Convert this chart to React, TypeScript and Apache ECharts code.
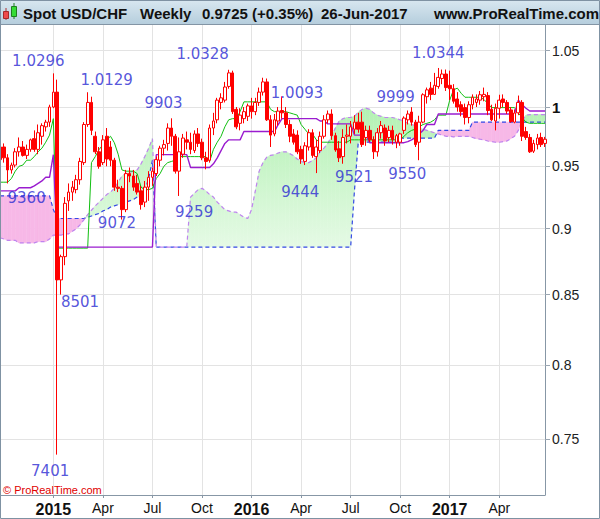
import React, { useEffect, useRef } from 'react';
import * as echarts from 'echarts';

// ---------- categories (weekly candles, Monday dates) ----------
const FIRST_WEEK = '2014-09-29';
const WEEK_COUNT = 144;
const categories: string[] = [];
{
  const t0 = Date.parse(FIRST_WEEK + 'T00:00:00Z');
  for (let i = 0; i < WEEK_COUNT; i++) categories.push(new Date(t0 + i * 604800000).toISOString().slice(0, 10));
}
const MONTHS = ['Jan', 'Feb', 'Mar', 'Apr', 'May', 'Jun', 'Jul', 'Aug', 'Sep', 'Oct', 'Nov', 'Dec'];

// ---------- price data ----------
const open = [
  0.9555, 0.966, 0.957, 0.947, 0.951, 0.962, 0.966, 0.959, 0.964, 0.973,
  0.964, 0.975, 0.983, 0.987, 1.000, 1.013, 0.861, 0.8785, 0.922, 0.929,
  0.931, 0.939, 0.953, 0.985, 1.004, 0.975, 0.962, 0.953, 0.975, 0.966,
  0.955, 0.933, 0.932, 0.915, 0.944, 0.942, 0.936, 0.930, 0.921, 0.933,
  0.941, 0.944, 0.955, 0.965, 0.969, 0.982, 0.975, 0.946, 0.960, 0.972,
  0.970, 0.963, 0.977, 0.970, 0.957, 0.955, 0.982, 0.989, 1.004, 1.006,
  1.018, 1.030, 0.998, 0.986, 0.990, 0.992, 1.001, 0.996, 1.004, 1.013,
  1.022, 0.989, 0.977, 0.988, 0.997, 0.995, 0.985, 0.977, 0.976, 0.964,
  0.954, 0.966, 0.978, 0.958, 0.963, 0.975, 0.989, 0.994, 0.9755, 0.9645,
  0.958, 0.975, 0.975, 0.981, 0.987, 0.987, 0.974, 0.980, 0.972, 0.962,
  0.978, 0.982, 0.974, 0.980, 0.970, 0.970, 0.980, 0.989, 0.9957, 0.987,
  0.970, 0.987, 1.009, 1.0165, 1.011, 1.018, 1.025, 1.029, 1.019, 1.016,
  1.007, 1.002, 0.9995, 0.991, 1.002, 1.004, 1.006, 1.009, 1.010, 0.998,
  0.988, 0.999, 1.007, 1.004, 0.9975, 0.987, 0.995, 1.004, 0.979, 0.974,
  0.9625, 0.968, 0.974, 0.969,
];
const high = [
  0.9675, 0.969, 0.960, 0.953, 0.965, 0.974, 0.971, 0.968, 0.973, 0.980,
  0.985, 0.986, 0.989, 1.002, 1.0296, 1.024, 0.880, 0.925, 0.936, 0.938,
  0.943, 0.957, 0.987, 1.0129, 1.009, 0.979, 0.966, 0.976, 0.982, 0.971,
  0.957, 0.939, 0.934, 0.947, 0.949, 0.947, 0.943, 0.934, 0.938, 0.946,
  0.949, 0.958, 0.967, 0.972, 0.986, 0.9903, 0.977, 0.974, 0.977, 0.979,
  0.978, 0.980, 0.982, 0.973, 0.962, 0.985, 0.995, 1.008, 1.012, 1.022,
  1.0328, 1.032, 1.000, 0.999, 1.000, 1.003, 1.008, 1.008, 1.017, 1.0257,
  1.025, 0.993, 0.994, 1.000, 1.0093, 1.000, 0.989, 0.981, 0.980, 0.967,
  0.970, 0.981, 0.981, 0.972, 0.979, 0.993, 0.997, 0.998, 0.978, 0.971,
  0.981, 0.985, 0.988, 0.993, 0.995, 0.996, 0.984, 0.984, 0.975, 0.982,
  0.988, 0.985, 0.984, 0.984, 0.977, 0.978, 0.992, 0.997, 0.9999, 0.989,
  0.9925, 1.012, 1.017, 1.022, 1.030, 1.0344, 1.033, 1.033, 1.032, 1.020,
  1.013, 1.005, 1.003, 1.005, 1.011, 1.011, 1.014, 1.017, 1.013, 1.002,
  1.003, 1.0107, 1.011, 1.006, 1.000, 0.998, 1.010, 1.006, 0.983, 0.977,
  0.972, 0.977, 0.978, 0.9745,
];
const low = [
  0.951, 0.953, 0.936, 0.944, 0.949, 0.958, 0.958, 0.956, 0.962, 0.962,
  0.960, 0.968, 0.979, 0.983, 0.999, 0.7401, 0.8501, 0.872, 0.914, 0.922,
  0.928, 0.935, 0.951, 0.983, 0.976, 0.960, 0.948, 0.951, 0.950, 0.950,
  0.930, 0.929, 0.9072, 0.913, 0.937, 0.930, 0.927, 0.915, 0.917, 0.922,
  0.934, 0.942, 0.950, 0.959, 0.963, 0.967, 0.944, 0.9259, 0.957, 0.964,
  0.960, 0.961, 0.966, 0.955, 0.9475, 0.953, 0.976, 0.986, 0.998, 1.004,
  1.016, 0.994, 0.981, 0.980, 0.986, 0.988, 0.990, 0.993, 1.001, 1.010,
  0.988, 0.966, 0.975, 0.984, 0.990, 0.982, 0.970, 0.968, 0.960, 0.952,
  0.951, 0.963, 0.957, 0.9444, 0.961, 0.973, 0.986, 0.972, 0.962, 0.9535,
  0.9521, 0.969, 0.969, 0.977, 0.978, 0.966, 0.967, 0.970, 0.956, 0.958,
  0.973, 0.967, 0.970, 0.968, 0.965, 0.967, 0.977, 0.985, 0.984, 0.966,
  0.9550, 0.986, 1.003, 1.006, 1.0107, 1.016, 1.020, 1.014, 1.006, 1.003,
  0.996, 0.992, 0.985, 0.986, 0.998, 1.000, 1.002, 1.005, 0.993, 0.988,
  0.980, 0.990, 1.000, 0.994, 0.9865, 0.986, 0.993, 0.971, 0.972, 0.961,
  0.961, 0.964, 0.966, 0.966,
];
const close = [
  0.966, 0.957, 0.947, 0.951, 0.962, 0.966, 0.959, 0.964, 0.972, 0.964,
  0.978, 0.984, 0.987, 1.000, 1.013, 0.861, 0.8785, 0.920, 0.929, 0.933,
  0.939, 0.954, 0.985, 1.004, 0.980, 0.962, 0.950, 0.972, 0.956, 0.955,
  0.933, 0.932, 0.915, 0.944, 0.942, 0.933, 0.929, 0.919, 0.933, 0.941,
  0.946, 0.9555, 0.965, 0.968, 0.982, 0.975, 0.946, 0.962, 0.9735, 0.970,
  0.964, 0.977, 0.969, 0.957, 0.954, 0.982, 0.988, 1.006, 1.008, 1.0175,
  1.030, 0.996, 0.983, 0.993, 0.996, 1.001, 0.996, 1.004, 1.013, 1.022,
  0.989, 0.976, 0.989, 0.9965, 0.995, 0.985, 0.975, 0.970, 0.962, 0.956,
  0.967, 0.978, 0.959, 0.966, 0.975, 0.989, 0.994, 0.9755, 0.9635, 0.957,
  0.974, 0.976, 0.983, 0.987, 0.981, 0.968, 0.980, 0.972, 0.962, 0.978,
  0.984, 0.971, 0.980, 0.972, 0.9755, 0.977, 0.9905, 0.994, 0.987, 0.968,
  0.987, 1.0107, 1.015, 1.011, 1.019, 1.026, 1.029, 1.017, 1.016, 1.005,
  1.000, 0.996, 0.991, 1.002, 1.0085, 1.007, 1.0107, 1.011, 0.997, 0.989,
  0.999, 1.006, 1.004, 0.9965, 0.9875, 0.9948, 1.004, 0.975, 0.974, 0.962,
  0.969, 0.9735, 0.968, 0.9725,
];

// ---------- Ichimoku lines ----------
const tenkan = [
  0.937, 0.937, 0.937, 0.940, 0.946, 0.950, 0.951, 0.955, 0.955, 0.958,
  0.962, 0.965, 0.970, 0.976, 0.990, 0.885, 0.885, 0.885, 0.885, 0.885,
  0.885, 0.885, 0.885, 0.885, 0.953, 0.958, 0.9638, 0.968, 0.972, 0.975,
  0.9696, 0.960, 0.947, 0.946, 0.946, 0.946, 0.944, 0.933, 0.931, 0.931,
  0.932, 0.940, 0.944, 0.950, 0.953, 0.954, 0.955, 0.958, 0.958, 0.958,
  0.958, 0.958, 0.958, 0.958, 0.958, 0.954, 0.964, 0.970, 0.975, 0.983,
  0.989, 0.990, 0.990, 0.996, 1.0045, 1.0045, 1.0045, 1.0045, 1.0045, 1.0045,
  1.0045, 0.998, 0.996, 0.996, 0.996, 0.996, 0.995, 0.994, 0.993, 0.985,
  0.981, 0.977, 0.977, 0.972, 0.970, 0.970, 0.970, 0.970, 0.970, 0.970,
  0.970, 0.970, 0.972, 0.972, 0.972, 0.972, 0.972, 0.972, 0.972, 0.972,
  0.972, 0.972, 0.972, 0.972, 0.972, 0.972, 0.975, 0.978, 0.980, 0.981,
  0.983, 0.985, 0.986, 0.987, 0.989, 0.993, 0.993, 0.993, 1.006, 1.015,
  1.0165, 1.012, 1.0085, 1.0085, 1.0085, 1.0085, 1.0085, 1.0065, 1.003, 0.9995,
  0.9995, 0.9995, 0.9995, 0.9995, 0.9995, 0.9995, 0.9948, 0.991, 0.987, 0.986,
  0.986, 0.986, 0.986, 0.986,
];
const kijun = [
  0.930, 0.930, 0.930, 0.930, 0.930, 0.9325, 0.9325, 0.9325, 0.9325, 0.934,
  0.936, 0.938, 0.941, 0.941, 0.9596, 0.8858, 0.8858, 0.8858, 0.8858, 0.8858,
  0.8858, 0.8858, 0.8858, 0.8858, 0.8858, 0.8858, 0.8858, 0.8858, 0.8858, 0.8858,
  0.8858, 0.8858, 0.8858, 0.8858, 0.8858, 0.8858, 0.8858, 0.8858, 0.8858, 0.8858,
  0.8858, 0.9596, 0.9596, 0.9596, 0.9596, 0.9596, 0.9596, 0.9596, 0.9596, 0.9596,
  0.949, 0.949, 0.949, 0.949, 0.949, 0.949, 0.952, 0.957, 0.963, 0.969,
  0.972, 0.972, 0.972, 0.972, 0.979, 0.979, 0.979, 0.979, 0.979, 0.979,
  0.979, 0.979, 0.979, 0.985, 0.990, 0.990, 0.990, 0.990, 0.990, 0.990,
  0.990, 0.990, 0.990, 0.990, 0.988, 0.988, 0.9855, 0.9855, 0.9855, 0.9855,
  0.9855, 0.9855, 0.9855, 0.976, 0.976, 0.976, 0.976, 0.9696, 0.9696, 0.9696,
  0.9696, 0.9696, 0.9696, 0.9696, 0.9696, 0.9696, 0.9696, 0.9705, 0.972, 0.974,
  0.977, 0.980, 0.985, 0.985, 0.985, 0.994, 0.994, 0.994, 0.994, 0.994,
  0.994, 0.994, 0.994, 0.994, 0.994, 0.994, 0.994, 0.994, 0.994, 0.994,
  0.994, 0.994, 0.994, 0.994, 0.994, 0.994, 1.006, 1.002, 0.999, 0.9966,
  0.9966, 0.9966, 0.9966, 0.9966,
];
const spanA = [
  0.893, 0.892, 0.891, 0.891, 0.891, 0.889, 0.889, 0.889, 0.889, 0.889,
  0.890, 0.890, 0.890, 0.892, 0.895, 0.895, 0.895, 0.896, 0.896, 0.898,
  0.900, 0.903, 0.907, 0.911, 0.9145, 0.918, 0.921, 0.924, 0.927, 0.929,
  0.932, 0.937, 0.942, 0.944, 0.945, 0.946, 0.947, 0.952, 0.958, 0.965,
  0.973, 0.8858, 0.8858, 0.8858, 0.8858, 0.8858, 0.8858, 0.8858, 0.8858, 0.8858,
  0.925, 0.928, 0.931, 0.932, 0.930, 0.927, 0.925, 0.921, 0.918, 0.915,
  0.914, 0.913, 0.913, 0.911, 0.909, 0.908, 0.915, 0.930, 0.946, 0.953,
  0.9575, 0.959, 0.9596, 0.961, 0.962, 0.962, 0.9605, 0.9588, 0.956, 0.954,
  0.953, 0.953, 0.9547, 0.957, 0.962, 0.965, 0.969, 0.975, 0.982, 0.988,
  0.990, 0.991, 0.991, 0.992, 0.9955, 0.998, 0.999, 0.998, 0.995, 0.993,
  0.992, 0.991, 0.991, 0.991, 0.990, 0.989, 0.988, 0.986, 0.985, 0.984,
  0.982, 0.981, 0.980, 0.979, 0.978, 0.977, 0.976, 0.975, 0.975, 0.9745,
  0.975, 0.975, 0.975, 0.975, 0.974, 0.973, 0.9725, 0.972, 0.971, 0.9705,
  0.970, 0.970, 0.9705, 0.971, 0.973, 0.975, 0.980, 0.988, 0.993, 0.9935,
  0.9935, 0.9935, 0.9935, 0.9935,
];
const spanB = [
  0.926, 0.926, 0.926, 0.926, 0.926, 0.926, 0.926, 0.926, 0.926, 0.926,
  0.926, 0.926, 0.926, 0.926, 0.915, 0.908, 0.908, 0.908, 0.908, 0.908,
  0.908, 0.908, 0.908, 0.909, 0.910, 0.911, 0.912, 0.914, 0.915, 0.917,
  0.918, 0.919, 0.920, 0.921, 0.922, 0.923, 0.925, 0.926, 0.930, 0.940,
  0.955, 0.8858, 0.8858, 0.8858, 0.8858, 0.8858, 0.8858, 0.8858, 0.8858, 0.8858,
  0.8858, 0.8858, 0.8858, 0.8858, 0.8858, 0.8858, 0.8858, 0.8858, 0.8858, 0.8858,
  0.8858, 0.8858, 0.8858, 0.8858, 0.8858, 0.8858, 0.8858, 0.8858, 0.8858, 0.8858,
  0.8858, 0.8858, 0.8858, 0.8858, 0.8858, 0.8858, 0.8858, 0.8858, 0.8858, 0.8858,
  0.8858, 0.8858, 0.8858, 0.8858, 0.8858, 0.8858, 0.8858, 0.8858, 0.8858, 0.8858,
  0.8858, 0.8858, 0.8858, 0.930, 0.970, 0.970, 0.970, 0.970, 0.970, 0.970,
  0.970, 0.970, 0.970, 0.970, 0.970, 0.9735, 0.9735, 0.9735, 0.9735, 0.9735,
  0.9735, 0.9735, 0.9735, 0.9735, 0.9735, 0.980, 0.980, 0.980, 0.980, 0.980,
  0.980, 0.980, 0.980, 0.980, 0.987, 0.987, 0.987, 0.987, 0.987, 0.987,
  0.987, 0.987, 0.987, 0.987, 0.987, 0.987, 0.987, 0.987, 0.987, 0.987,
  0.987, 0.987, 0.987, 0.987,
];

// ---------- swing labels: candle index + which extreme ----------
const swingIndex = [14, 23, 2, 16, 15, 32, 45, 47, 60, 74, 83, 90, 108, 110, 115];
const swingKind = ['H', 'H', 'L', 'L', 'L', 'L', 'H', 'L', 'H', 'H', 'L', 'L', 'H', 'L', 'H'];
// label placement offsets (pixels) relative to the extreme
const swingOffset: [number, number][] = [
  [-15, -12], [19, -12], [19, 15], [19, 7], [-7, 16], [-5, 3], [-8, -15], [15, 16],
  [-26, -16], [15, -3], [-16, 19], [11, 13], [-16, -10], [-12, 14], [0, -15],
];

const yTickValues = [0.75, 0.8, 0.85, 0.9, 0.95, 1, 1.05];
const Y_MIN = 0.71468;
const Y_MAX = 1.07362;

function tickLabel(d: string): string {
  const [y, m, day] = d.split('-').map(Number);
  if (day > 7 || (m - 1) % 3 !== 0) return '';
  return m === 1 ? String(y) : MONTHS[m - 1];
}

export default function App() {
  const ref = useRef<HTMLDivElement>(null);
  useEffect(() => {
    if (!ref.current) return;
    const chart = echarts.init(ref.current, undefined, { renderer: 'svg' });

    const quarterShown = categories.map((d, i) => i >= 5 && tickLabel(d) !== '');
    const qInterval = (index: number) => !!quarterShown[index];

    const GREEN = new echarts.graphic.LinearGradient(0, 110, 0, 250, [
      { offset: 0, color: '#b4f1b4' },
      { offset: 1, color: '#e6fae6' },
    ], true);
    const PINK = '#f7b8e7';

    const cloudSegments = spanA.slice(0, -1).map((a, i) => [i, a, spanB[i], spanA[i + 1], spanB[i + 1]]);

    const candleData = open.map((o, i) => [o, close[i], low[i], high[i]]);

    const swingData = swingIndex.map((idx, k) => {
      const v = swingKind[k] === 'H' ? high[idx] : low[idx];
      const txt = v >= 1 ? v.toFixed(4) : v.toFixed(4).slice(2);
      return { value: [idx, v], name: txt, label: { offset: swingOffset[k] } };
    });

    const font = 'Liberation Sans';

    const option: any = {
      animation: false,
      backgroundColor: '#ffffff',
      grid: { left: 0, right: 55, top: 25, bottom: 24, outerBoundsMode: 'none' },
      xAxis: {
        type: 'category',
        data: categories,
        boundaryGap: false,
        axisLine: { show: true, lineStyle: { color: '#8797a6', width: 1 } },
        axisTick: { show: true, interval: qInterval, length: 3, lineStyle: { color: '#8797a6' } },
        axisLabel: {
          show: true,
          interval: qInterval,
          margin: 6,
          formatter: (value: string) => {
            const t = tickLabel(value);
            return /^\d+$/.test(t) ? `{y|${t}}` : `{m|${t}}`;
          },
          rich: {
            y: { fontSize: 16, fontWeight: 'bold', color: '#111', fontFamily: font },
            m: { fontSize: 14, color: '#111', fontFamily: font },
          },
        },
        splitLine: { show: true, interval: qInterval, lineStyle: { color: '#e3e3e3', width: 1 } },
      },
      yAxis: {
        type: 'log',
        logBase: 10,
        position: 'right',
        min: Y_MIN,
        max: Y_MAX,
        axisLine: { show: true, lineStyle: { color: '#8797a6', width: 1 } },
        axisTick: { show: true, customValues: yTickValues, length: 5, lineStyle: { color: '#9aa6b2' } },
        axisLabel: {
          show: true,
          customValues: yTickValues,
          margin: 7,
          formatter: (v: number) => {
            const r = Math.round(v * 100) / 100;
            return r === 1 ? '{b|1}' : `{n|${r}}`;
          },
          rich: {
            b: { fontSize: 15, fontWeight: 'bold', color: '#111', fontFamily: font },
            n: { fontSize: 14, color: '#222', fontFamily: font },
          },
        },
        splitLine: { show: true, lineStyle: { color: '#e3e3e3', width: 1 } },
      },
      series: [
        {
          type: 'custom',
          name: 'cloud',
          data: cloudSegments,
          encode: { x: 0, y: [1, 2, 3, 4] },
          clip: true,
          silent: true,
          z: 1,
          renderItem: (params: any, api: any) => {
            const i = api.value(0) as number;
            const A0 = api.coord([i, api.value(1)]);
            const B0 = api.coord([i, api.value(2)]);
            const A1 = api.coord([i + 1, api.value(3)]);
            const B1 = api.coord([i + 1, api.value(4)]);
            const d0 = B0[1] - A0[1];
            const d1 = B1[1] - A1[1];
            const col = (d: number) => (d >= 0 ? GREEN : PINK);
            const poly = (pts: number[][], d: number) => ({
              type: 'polygon',
              shape: { points: pts },
              style: { fill: col(d), stroke: col(d), lineWidth: 0.6 },
            });
            const children: any[] = [];
            if (Math.abs(d0) < 0.3 && Math.abs(d1) < 0.3) return { type: 'group', children };
            if (d0 * d1 >= 0) {
              children.push(poly([A0, A1, B1, B0], Math.abs(d0) > Math.abs(d1) ? d0 : d1));
            } else {
              const t = d0 / (d0 - d1);
              const cx = A0[0] + t * (A1[0] - A0[0]);
              const cy = A0[1] + t * (A1[1] - A0[1]);
              children.push(poly([A0, [cx, cy], B0], d0));
              children.push(poly([[cx, cy], A1, B1], d1));
            }
            return { type: 'group', children };
          },
        },
        {
          type: 'line', name: 'Senkou B', data: spanB, symbol: 'none', silent: true, z: 2,
          lineStyle: { color: '#3548e6', width: 1.2, type: [4, 3] },
        },
        {
          type: 'line', name: 'Senkou A', data: spanA, symbol: 'none', silent: true, z: 2,
          lineStyle: { color: '#bf84ef', width: 1.2, type: [4, 3] },
        },
        {
          type: 'line', name: 'Tenkan', data: tenkan, symbol: 'none', silent: true, z: 3,
          lineStyle: { color: '#12bf12', width: 1 },
        },
        {
          type: 'line', name: 'Kijun', data: kijun, symbol: 'none', silent: true, z: 3,
          lineStyle: { color: '#9a1ccf', width: 1.4 },
        },
        {
          type: 'candlestick', name: 'USD/CHF', data: candleData, barWidth: 3.2, z: 4,
          itemStyle: { color: '#ffffff', color0: '#ff0000', borderColor: '#ff0000', borderColor0: '#ff0000', borderWidth: 1 },
        },
        {
          type: 'scatter', name: 'swings', data: swingData, symbolSize: 1, z: 5, silent: true,
          itemStyle: { color: 'rgba(0,0,0,0)' },
          label: {
            show: true, position: 'inside', formatter: (p: any) => p.name,
            color: '#2a2ad2', fontSize: 15, fontFamily: 'DejaVu Sans',
            textBorderWidth: 0, textBorderColor: 'transparent', textShadowBlur: 0,
          },
        },
      ],
      graphic: [
        {
          type: 'rect', z: 100, silent: true,
          shape: { x: 0, y: 0, width: 600, height: 24 },
          style: {
            fill: new echarts.graphic.LinearGradient(0, 0, 0, 1, [
              { offset: 0, color: '#d8e7f0' },
              { offset: 1, color: '#b6cedd' },
            ]),
            stroke: null,
          },
        },
        { type: 'line', z: 101, silent: true, shape: { x1: 0, y1: 24.5, x2: 600, y2: 24.5 }, style: { stroke: '#8395a5', lineWidth: 1 } },
        // icon
        { type: 'line', z: 102, silent: true, shape: { x1: 6, y1: 8, x2: 6, y2: 20 }, style: { stroke: '#b03030', lineWidth: 1 } },
        { type: 'rect', z: 103, silent: true, shape: { x: 3.5, y: 11.5, width: 5, height: 7 }, style: { fill: '#ee4b4b', stroke: '#a52a2a', lineWidth: 1 } },
        { type: 'line', z: 102, silent: true, shape: { x1: 14, y1: 3, x2: 14, y2: 19 }, style: { stroke: '#1f7f1f', lineWidth: 1 } },
        { type: 'rect', z: 103, silent: true, shape: { x: 11.5, y: 6.5, width: 5, height: 10 }, style: { fill: '#35dc35', stroke: '#1f7f1f', lineWidth: 1 } },
        ...[
          ['Spot USD/CHF', 23],
          ['Weekly', 140],
          ['0.9725 (+0.35%)', 202],
          ['26-Jun-2017', 321],
          ['www.ProRealTime.com', 434],
        ].map(([t, x]) => ({
          type: 'text', z: 104, silent: true, x: x as number, y: 13,
          style: { text: t as string, fill: '#111', fontSize: 15, fontWeight: 'bold', fontFamily: font, verticalAlign: 'middle', align: 'left' },
        })),
        {
          type: 'text', z: 104, silent: true, x: 3, y: 490,
          style: { text: '\u00A9 ProRealTime.com', fill: '#e00000', fontSize: 11, fontFamily: font, verticalAlign: 'middle', align: 'left' },
        },
        {
          type: 'rect', z: 110, silent: true,
          shape: { x: 0.5, y: 0.5, width: 599, height: 518 },
          style: { fill: null, stroke: '#7f92a3', lineWidth: 1 },
        },
      ],
    };
    chart.setOption(option);
    return () => chart.dispose();
  }, []);
  return <div ref={ref} style={{ position: 'fixed', left: 0, top: 0, width: 600, height: 519 }} />;
}
